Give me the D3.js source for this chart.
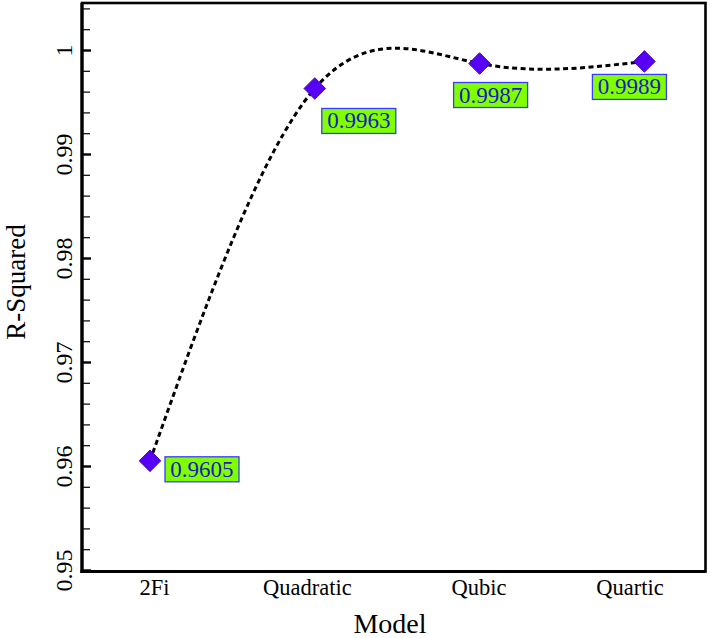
<!DOCTYPE html>
<html>
<head>
<meta charset="utf-8">
<script src="https://cdn.jsdelivr.net/npm/d3@7"></script>
<style>
  html, body { margin: 0; padding: 0; background: #fff; }
  svg { display: block; }
  text { font-family: "Liberation Serif", "Times New Roman", serif; }
</style>
</head>
<body>
<svg id="chart" width="710" height="638"></svg>
<script>
// ---- data ----
const categories = ["2Fi", "Quadratic", "Qubic", "Quartic"];
const rSquared = [0.9605, 0.9963, 0.9987, 0.9989];
const valueLabels = ["0.9605", "0.9963", "0.9987", "0.9989"];
const yMajorTicks = [0.95, 0.96, 0.97, 0.98, 0.99, 1];
const yTickLabels = ["0.95", "0.96", "0.97", "0.98", "0.99", "1"];

// ---- layout (not data) ----
const frame = { left: 82, right: 705.5, top: 3, bottom: 571.5 };
const labelOffsets = [[15, -4], [7, 20], [-26, 19], [-52, 13]]; // box top-left relative to point
const xLabelShift = [4, -8, -1, -15];

const svg = d3.select("#chart");

const x = d3.scaleLinear().domain([-0.4126, 3.3707]).range([frame.left, frame.right]);
const y = d3.scaleLinear().domain([0.95, 1.0045]).range([570, 3.2]);

// frame
svg.append("rect")
  .attr("x", frame.left).attr("y", frame.top)
  .attr("width", frame.right - frame.left).attr("height", frame.bottom - frame.top)
  .attr("fill", "none").attr("stroke", "#000").attr("stroke-width", 2.6);

// minor ticks
const minorTicks = d3.range(0.952, 1.0045, 0.002).filter(v => Math.abs(Math.round(v * 100) - v * 100) > 1e-6);
const yMinor = svg.append("g").attr("transform", `translate(${frame.left},0)`)
  .call(d3.axisLeft(y).tickValues(minorTicks).tickSize(-8).tickFormat(""));
yMinor.select(".domain").remove();
yMinor.selectAll(".tick line").attr("stroke-width", 1.2);

// major ticks with rotated labels
const yMajor = svg.append("g").attr("transform", `translate(${frame.left},0)`)
  .call(d3.axisLeft(y).tickValues(yMajorTicks).tickSize(-9)
    .tickFormat((d, i) => yTickLabels[i]));
yMajor.attr("font-family", null);
yMajor.select(".domain").remove();
yMajor.selectAll(".tick line").attr("stroke-width", 2.4);
yMajor.selectAll(".tick text")
  .attr("transform", "rotate(-90)")
  .attr("x", 0).attr("y", -10).attr("dy", 0)
  .attr("text-anchor", "middle")
  .attr("font-size", 24).attr("fill", "#000")
  .style("font-family", "'Liberation Serif', serif");

// x axis labels
const xAxis = svg.append("g").attr("transform", `translate(0,${frame.bottom})`)
  .call(d3.axisBottom(x).tickValues(d3.range(categories.length)).tickSize(0)
    .tickFormat(i => categories[i]));
xAxis.attr("font-family", null);
xAxis.select(".domain").remove();
xAxis.selectAll(".tick text")
  .attr("y", 23).attr("dy", 0)
  .attr("dx", (d, i) => xLabelShift[i])
  .attr("font-size", 22.5).attr("fill", "#000")
  .style("font-family", "'Liberation Serif', serif");

// thicker left and bottom axis lines
svg.append("line").attr("x1", frame.left).attr("x2", frame.left)
  .attr("y1", frame.top).attr("y2", frame.bottom + 1.5)
  .attr("stroke", "#000").attr("stroke-width", 3.2);
svg.append("line").attr("x1", frame.left - 1.5).attr("x2", frame.right)
  .attr("y1", frame.bottom).attr("y2", frame.bottom)
  .attr("stroke", "#000").attr("stroke-width", 3.2);

// axis titles
svg.append("text")
  .attr("transform", `translate(25,282) rotate(-90)`)
  .attr("text-anchor", "middle")
  .attr("font-size", 27).attr("fill", "#000")
  .text("R-Squared");
svg.append("text")
  .attr("x", 390).attr("y", 633)
  .attr("text-anchor", "middle")
  .attr("font-size", 28).attr("fill", "#000")
  .text("Model");

// dashed smooth curve
const line = d3.line()
  .x((d, i) => x(i))
  .y(d => y(d))
  .curve(d3.curveNatural);
svg.append("path")
  .datum(rSquared)
  .attr("d", line)
  .attr("fill", "none")
  .attr("stroke", "#000")
  .attr("stroke-width", 3)
  .attr("stroke-dasharray", "5,3.5");

// diamond markers
svg.selectAll(".pt").data(rSquared).enter().append("path")
  .attr("class", "pt")
  .attr("d", d3.symbol().type(d3.symbolSquare).size(235))
  .attr("transform", (d, i) => `translate(${x(i)},${y(d)}) rotate(45)`)
  .attr("fill", "#5800f5")
  .attr("stroke", "#3a00a8")
  .attr("stroke-width", 0.8);

// value labels
const lab = svg.selectAll(".lab").data(rSquared).enter().append("g")
  .attr("class", "lab")
  .attr("transform", (d, i) => `translate(${x(i) + labelOffsets[i][0]},${y(d) + labelOffsets[i][1]})`);
lab.append("rect")
  .attr("width", 74).attr("height", 25)
  .attr("fill", "#80ff00")
  .attr("stroke", "#3a3aff")
  .attr("stroke-width", 1.3);
lab.append("text")
  .attr("x", 37).attr("y", 20)
  .attr("text-anchor", "middle")
  .attr("font-size", 23)
  .attr("fill", "#1a1ac0")
  .text((d, i) => valueLabels[i]);
</script>
</body>
</html>
